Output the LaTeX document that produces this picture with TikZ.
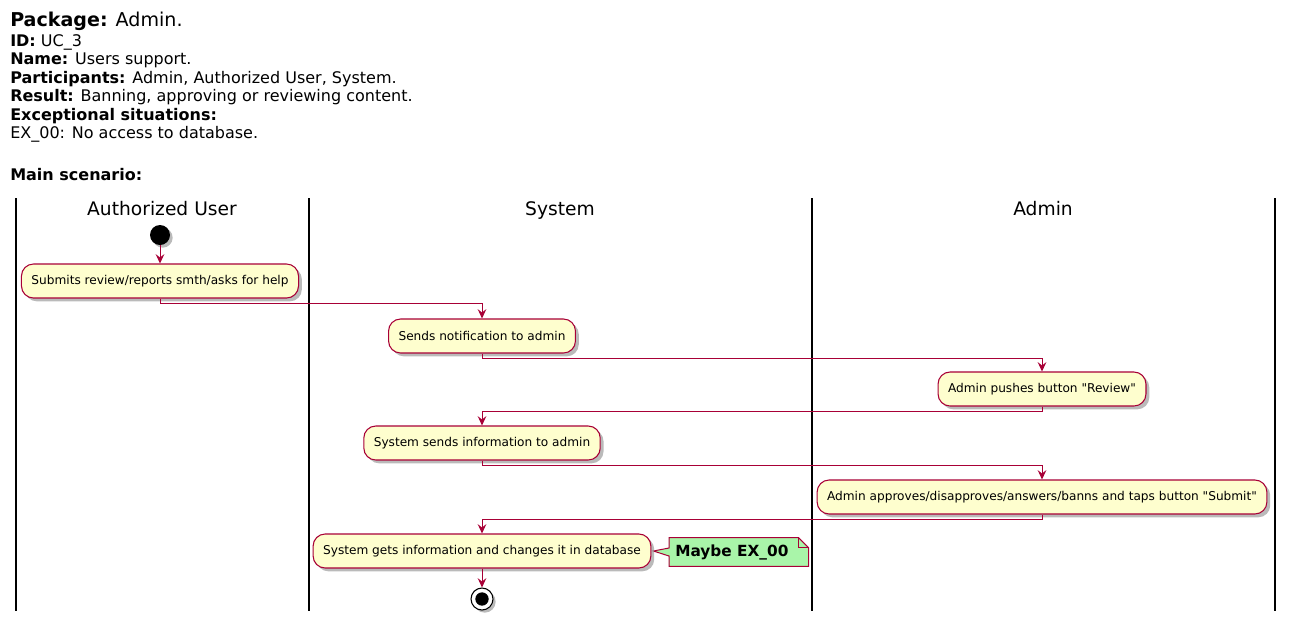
\documentclass[tikz,border=0pt]{standalone}
\usepackage{fontspec}
\setmainfont{DejaVu Sans}
\usetikzlibrary{arrows.meta, calc, shadows}
\definecolor{umlred}{HTML}{A80036}
\definecolor{umlfill}{HTML}{FEFECE}
\definecolor{notegreen}{HTML}{A9F5A9}
\pgfdeclarelayer{bg}
\pgfsetlayers{bg,main}

\begin{document}
\begin{tikzpicture}[x=0.75pt, y=-0.75pt, >={Stealth[length=7pt, width=6.5pt, inset=2.5pt]},
    act/.style={draw=umlred, fill=umlfill, line width=0.8pt, rounded corners=9pt,
        minimum height=25.5pt, inner xsep=7.5pt, font=\fontsize{9.1}{11}\selectfont,
        drop shadow={shadow xshift=2.5pt, shadow yshift=-2.5pt, fill=black!45, opacity=0.6}},
    flow/.style={->, umlred, line width=0.75pt},
    lane/.style={line width=1.5pt},
    title/.style={anchor=base, font=\fontsize{14}{16}\selectfont},
    hdr/.style={anchor=base west, inner sep=0pt, font=\fontsize{12}{14}\selectfont}]
        \useasboundingbox (0,0) rectangle (1294,626);
        % header
        \node[hdr, font=\fontsize{14.3}{16}\selectfont] (pkg) at (10,26) {\textbf{Package:} Admin.};
        \node[hdr] (uid) at (10,46) {\textbf{ID:} UC\_3};
        \node[hdr] (uname) at (10,64) {\textbf{Name:} Users support.};
        \node[hdr] (parts) at (10,83) {\textbf{Participants:} Admin, Authorized User, System.};
        \node[hdr] (res) at (10,101) {\textbf{Result:} Banning, approving or reviewing content.};
        \node[hdr] (exc) at (10,120) {\textbf{Exceptional situations:}};
        \node[hdr] (ex0) at (10,138) {EX\_00: No access to database.};
        \node[hdr] (scen) at (10,180) {\textbf{Main scenario:}};
        % swimlanes
        \foreach \lx in {16, 309, 812, 1275}
            \draw[lane] (\lx,198) -- (\lx,611);
        \node[title] (user) at (162,215) {Authorized User};
        \node[title] (sys) at (560,215) {System};
        \node[title] (adm) at (1043,215) {Admin};
        % activities
        \node[circle, fill=black, minimum size=15pt, inner sep=0pt,
            drop shadow={shadow xshift=2pt, shadow yshift=-2pt, fill=black!45, opacity=0.6}] (start) at (160,235) {};
        \node[act] (submit) at (160,281) {Submits review/reports smth/asks for help};
        \node[act] (notify) at (482,336) {Sends notification to admin};
        \node[act] (review) at (1042,389) {Admin pushes button \textquotedbl Review\textquotedbl};
        \node[act] (info) at (482,443) {System sends information to admin};
        \node[act] (decide) at (1042,497) {Admin approves/disapproves/answers/banns and taps button \textquotedbl Submit\textquotedbl};
        \node[act] (store) at (482,551) {System gets information and changes it in database};
        \node[circle, draw=black, fill=white, line width=0.8pt, minimum size=16.5pt, inner sep=0pt,
            drop shadow={shadow xshift=2pt, shadow yshift=-2pt, fill=black!45, opacity=0.6}] (stop) at (482,599) {};
        \fill (stop.center) circle (5pt);
        % note
        \node[anchor=west, inner xsep=4.5pt, minimum height=21pt, font=\bfseries\fontsize{11.5}{13}\selectfont] (maybe) at (669,552) {Maybe EX\_00};
        \begin{pgfonlayer}{bg}
        \draw[umlred, fill=notegreen, line width=0.75pt] (maybe.north west) -- ($(maybe.north east)+(4,0)$)
            -- ($(maybe.north east)+(14,10)$) -- ($(maybe.south east)+(14,0)$) -- (maybe.south west)
            -- ($(maybe.west)+(0,4)$) -- ($(store.east)+(2,0)$) -- ($(maybe.west)+(0,-4)$) -- cycle;
        \draw[umlred, line width=0.75pt] ($(maybe.north east)+(4,0)$) |- ($(maybe.north east)+(14,10)$);
        \end{pgfonlayer}
        % connectors
        \draw[flow] (start) -- (submit);
        \draw[flow] (submit.south) -- ++(0,5) -| (notify.north);
        \draw[flow] (notify.south) -- ++(0,5) -| (review.north);
        \draw[flow] (review.south) -- ++(0,5) -| (info.north);
        \draw[flow] (info.south) -- ++(0,5) -| (decide.north);
        \draw[flow] (decide.south) -- ++(0,5) -| (store.north);
        \draw[flow] (store) -- (stop);
\end{tikzpicture}
\end{document}
